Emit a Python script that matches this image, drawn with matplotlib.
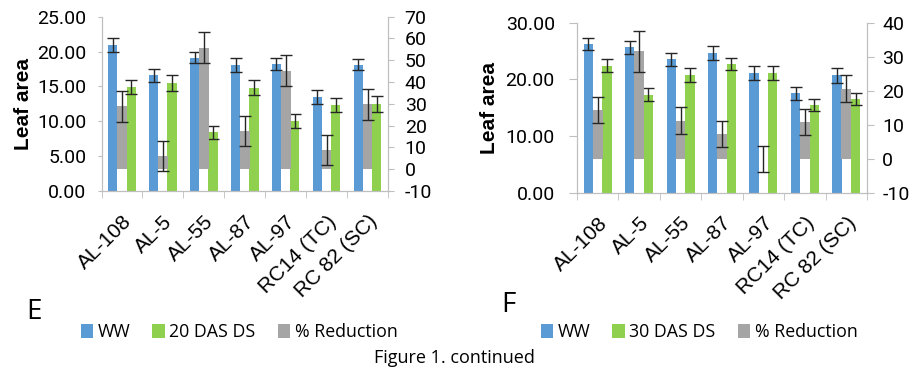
import matplotlib.pyplot as plt
import numpy as np
from matplotlib.ticker import FormatStrFormatter, FixedLocator
from matplotlib.transforms import ScaledTranslation

plt.rcParams['axes.unicode_minus'] = False

# data
cats = ['AL-108', 'AL-5', 'AL-55', 'AL-87', 'AL-97', 'RC14 (TC)', 'RC 82 (SC)']

# panel E (20 DAS)
ww_e = [21.0, 16.6, 19.1, 18.1, 18.2, 13.5, 18.1]
ww_e_err = [1.0, 0.9, 0.8, 1.0, 0.9, 1.0, 0.8]
ds_e = [14.9, 15.5, 8.4, 14.8, 10.1, 12.4, 12.5]
ds_e_err = [1.0, 1.1, 0.9, 1.1, 1.0, 1.0, 1.1]
red_e = [28.8, 6.1, 55.7, 17.6, 45.2, 8.9, 29.9]
red_e_err = [7.0, 7.0, 7.1, 7.0, 7.0, 7.0, 7.1]

# panel F (30 DAS)
ww_f = [26.2, 25.6, 23.5, 24.6, 21.1, 17.5, 20.7]
ww_f_err = [1.1, 1.1, 1.2, 1.2, 1.2, 1.1, 1.3]
ds_f = [22.4, 17.3, 20.8, 22.7, 21.1, 15.5, 16.5]
ds_f_err = [1.1, 1.2, 1.2, 1.1, 1.2, 1.1, 1.0]
red_f = [14.3, 31.6, 11.2, 7.3, 0.0, 10.7, 20.6]
red_f_err = [3.8, 6.0, 3.9, 3.8, 3.8, 3.8, 3.9]

BLUE = '#5B9BD5'
GREEN = '#8FD14F'
GRAY = '#A5A5A5'
AXC = '#BFBFBF'
ERRC = '#262626'

W, H = 915, 375
fig = plt.figure(figsize=(W / 100, H / 100), dpi=100)


def px_axes(left, top, right, bottom):
    return fig.add_axes([left / W, 1 - bottom / H, (right - left) / W, (bottom - top) / H])


def panel(box, ww, ww_err, ds, ds_err, red, red_err, lmax, lstep, rmax, ds_label,
          letter, letter_xy, leg_x, ltick, lpad, rtick, rpad, ylpad):
    ax = px_axes(*box)
    ax2 = ax.twinx()
    x = np.arange(len(cats))
    bw = 0.225
    ekw = dict(ecolor=ERRC, elinewidth=1, capsize=4, capthick=1)
    b1 = ax.bar(x - bw, ww, bw, color=BLUE, yerr=ww_err, error_kw=ekw, label='WW')
    b2 = ax.bar(x + bw, ds, bw, color=GREEN, yerr=ds_err, error_kw=ekw, label=ds_label)
    b3 = ax2.bar(x, red, bw * 1.05, color=GRAY, yerr=red_err, error_kw=ekw, label='% Reduction')

    ax.set_xlim(-0.5, len(cats) - 0.5)
    ax.set_ylim(0, lmax)
    ax.set_yticks(np.arange(0, lmax + 0.1, lstep))
    ax.yaxis.set_major_formatter(FormatStrFormatter('%.2f'))
    ax2.set_ylim(-10, rmax)
    ax2.set_yticks(np.arange(-10, rmax + 1, 10))

    ax.set_xticks(x)
    ax.set_xticklabels(cats, rotation=45, ha='right', va='top', rotation_mode='anchor',
                       fontsize=15, family='Liberation Sans')
    shift = ScaledTranslation(5 / 100, 0, fig.dpi_scale_trans)
    for t in ax.get_xticklabels():
        t.set_transform(t.get_transform() + shift)
    ax.xaxis.set_minor_locator(FixedLocator(np.arange(-0.5, len(cats), 1.0)))
    ax.tick_params(axis='x', which='major', length=0, pad=15)
    ax.tick_params(axis='x', which='minor', length=5, color=AXC)
    ax.tick_params(axis='y', length=ltick, color=AXC, pad=lpad, labelsize=14)
    ax2.tick_params(axis='y', length=rtick, color=AXC, pad=rpad, labelsize=14)
    for t in ax.get_yticklabels() + ax2.get_yticklabels():
        t.set_family('Roboto')

    for a in (ax, ax2):
        a.spines['top'].set_visible(False)
        for s in ('left', 'right', 'bottom'):
            a.spines[s].set_color(AXC)
    ax.set_ylabel('Leaf area', fontsize=15, fontweight='bold', family='Liberation Sans', labelpad=ylpad)

    fig.text(letter_xy[0] / W, 1 - letter_xy[1] / H, letter, fontsize=20, family='Open Sans',
             ha='left', va='center')
    fig.legend(handles=[b1, b2, b3], loc='center', bbox_to_anchor=(leg_x / W, 1 - 332 / H),
               ncol=3, frameon=False, prop={'family': 'Open Sans', 'size': 12.8},
               handlelength=0.7, handleheight=0.8, handletextpad=0.25, columnspacing=1.25,
               borderaxespad=0)
    return ax


panel((101.5, 16.7, 388, 191), ww_e, ww_e_err, ds_e, ds_e_err, red_e, red_e_err,
      25, 5, 70, '20 DAS DS', 'E', (26, 312), 239,
      ltick=3, lpad=8, rtick=4, rpad=8, ylpad=3)
panel((577, 22.5, 867, 192.7), ww_f, ww_f_err, ds_f, ds_f_err, red_f, red_f_err,
      30, 10, 40, '30 DAS DS', 'F', (501, 305), 699,
      ltick=6, lpad=10, rtick=5, rpad=6, ylpad=5)

fig.text(454 / W, 1 - 358 / H, 'Figure 1. continued', fontsize=13, family='Open Sans',
         ha='center', va='center')

fig.savefig('out.png', dpi=100)
